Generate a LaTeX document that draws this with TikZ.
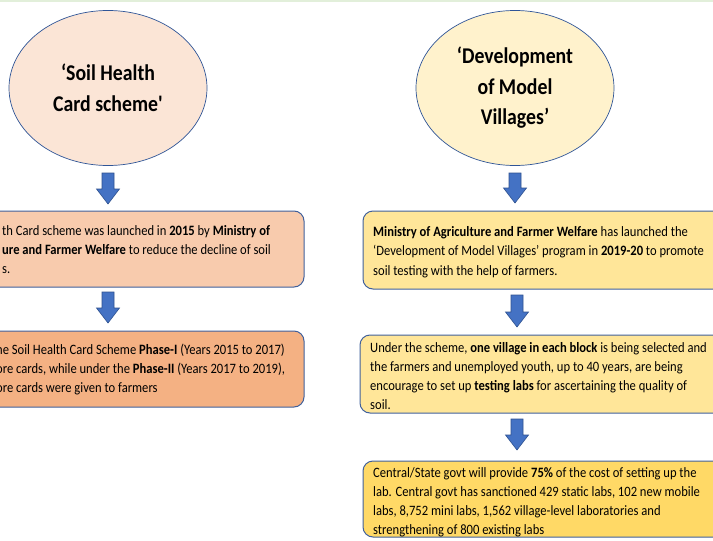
\documentclass[tikz,border=0pt]{standalone}
\usepackage{fontspec}
\setmainfont{Carlito}[FakeStretch=0.88]
\newfontfamily\titlefont{Carlito}[FakeStretch=0.88]
\usetikzlibrary{shapes.geometric}
\definecolor{ellL}{HTML}{FBE5D6}
\definecolor{ellR}{HTML}{FFF2CC}
\definecolor{boxLa}{HTML}{F8CBAD}
\definecolor{boxLb}{HTML}{F4B183}
\definecolor{boxRa}{HTML}{FFE699}
\definecolor{boxRc}{HTML}{FFD966}
\definecolor{edgeblue}{HTML}{41619C}
\definecolor{ellblue}{HTML}{2F5597}
\definecolor{arrfill}{HTML}{4472C4}
\definecolor{arredge}{HTML}{2F528F}
\definecolor{topline}{HTML}{E2EFDA}
\tikzset{
  oval/.style={ellipse, draw=ellblue, line width=0.7pt, minimum width=198pt, minimum height=155pt, inner sep=0pt, align=center, font=\titlefont\fontsize{22.5}{30.5}\selectfont\bfseries},
  panel/.style={draw=edgeblue, line width=1pt, rounded corners=10pt},
  body/.style={anchor=north west, inner sep=0pt, align=left, font=\fontsize{14.3}{19.2}\selectfont},
  blockarrow/.style={fill=arrfill, draw=arredge, line width=0.6pt},
}
\newcommand\barrow[3]{%
  \filldraw[blockarrow] (#1-6,#2) -- (#1+6,#2) -- (#1+6,#3-15) -- (#1+11.5,#3-15) -- (#1,#3) -- (#1-11.5,#3-15) -- (#1-6,#3-15) -- cycle;}
\begin{document}
\begin{tikzpicture}[x=1pt,y=-1pt]
\useasboundingbox (0,0) rectangle (713,541);
\fill[white] (0,0) rectangle (713,541);
\clip (0,0) rectangle (713,541);
\draw[topline, line width=1.5pt] (0,0.75) -- (713,0.75);

% left column
\node[oval, fill=ellL] (soil) at (108,88) {‘Soil Health\\Card scheme'};
\barrow{108}{173}{204}
\draw[panel, fill=boxLa] (-20,211) rectangle (304,287);
\node[body] (l1) at (2,225) {th Card scheme was launched in \textbf{2015} by \textbf{Ministry of}\\\textbf{ure and Farmer Welfare} to reduce the decline of soil\\s.};
\barrow{108}{292}{323}
\draw[panel, fill=boxLb] (-20,331) rectangle (304,407);
\node[body] (l2) at (-4,343.5) {he Soil Health Card Scheme \textbf{Phase-I} (Years 2015 to 2017)\\ore cards, while under the \textbf{Phase-II} (Years 2017 to 2019),\\ore cards were given to farmers};

% right column
\node[oval, fill=ellR] (model) at (515,88) {‘Development\\of Model\\Villages’};
\barrow{515}{173}{203}
\draw[panel, fill=boxRa] (363,211) rectangle (740,289);
\node[body] (r1) at (373,226.5) {\textbf{Ministry of Agriculture and Farmer Welfare} has launched the\\‘Development of Model Villages’ program in \textbf{2019-20} to promote\\soil testing with the help of farmers.};
\barrow{517}{295}{327}
\draw[panel, fill=boxRa] (360,335) rectangle (740,413);
\node[body] (r2) at (370,342) {Under the scheme, \textbf{one village in each block} is being selected and\\the farmers and unemployed youth, up to 40 years, are being\\encourage to set up \textbf{testing labs} for ascertaining the quality of\\soil.};
\barrow{517}{419}{450}
\draw[panel, fill=boxRc] (363,461) rectangle (740,537);
\node[body] (r3) at (373,467) {Central/State govt will provide \textbf{75\%} of the cost of setting up the\\lab. Central govt has sanctioned 429 static labs, 102 new mobile\\labs, 8,752 mini labs, 1,562 village-level laboratories and\\strengthening of 800 existing labs};
\end{tikzpicture}
\end{document}
